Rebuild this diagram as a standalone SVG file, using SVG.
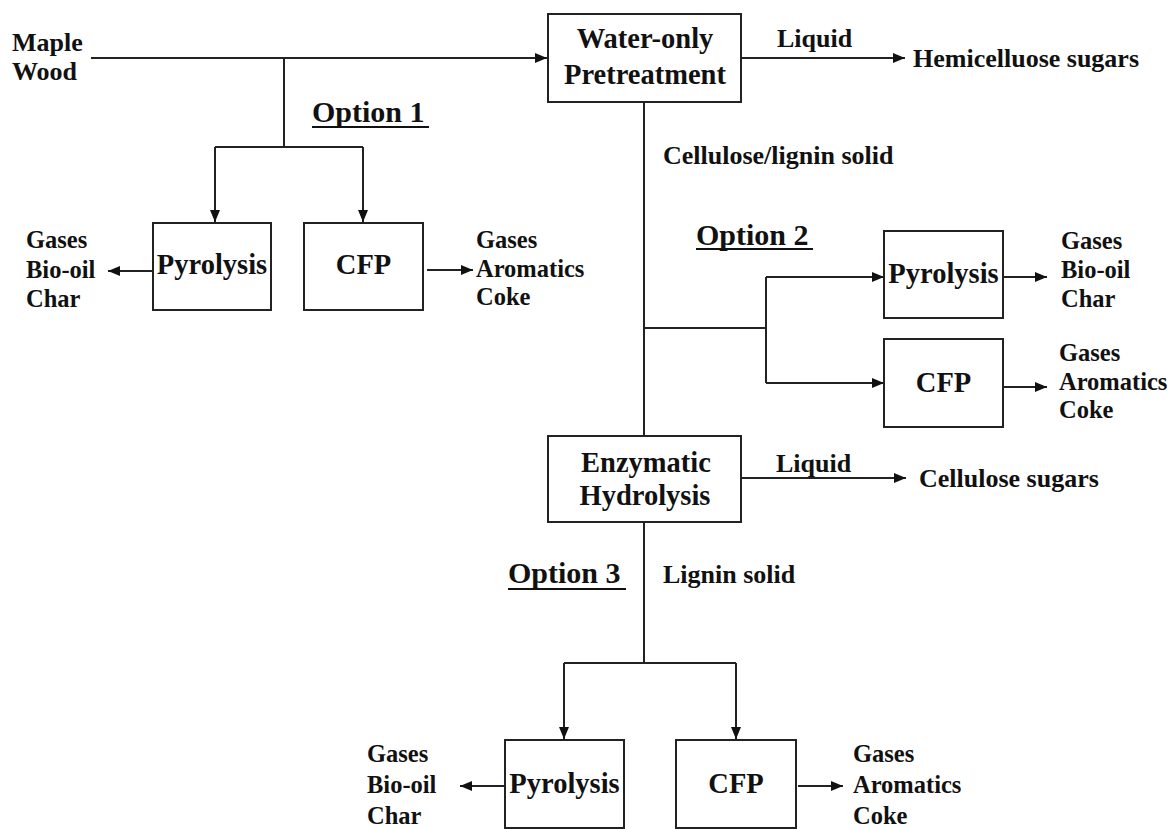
<svg xmlns="http://www.w3.org/2000/svg" width="1171" height="829" viewBox="0 0 1171 829">
<style>
text{font-family:'Liberation Serif','Times New Roman','DejaVu Serif Condensed','DejaVu Serif',serif;font-weight:700;fill:#111}
.box{fill:#fff;stroke:#222;stroke-width:2}
.bt{font-size:28.5px;text-anchor:middle}
.lb{font-size:26px}
.out{font-size:24.5px}
.opt{font-size:30px}
.c{fill:none;stroke:#222;stroke-width:2}
.ul{stroke:#111;stroke-width:2.2}
</style>
<defs>
<marker id="ah" viewBox="0 0 12 10" refX="12" refY="5" markerWidth="12" markerHeight="10" markerUnits="userSpaceOnUse" orient="auto">
<path d="M0,0 L12,5 L0,10 Z" fill="#111"/>
</marker>
</defs>
<rect width="1171" height="829" fill="#fff"/>

<g id="connectors">
<path class="c" d="M91,58 H547" marker-end="url(#ah)"/>
<path class="c" d="M284,58 V147"/>
<path class="c" d="M215,147 H363"/>
<path class="c" d="M215,147 V222" marker-end="url(#ah)"/>
<path class="c" d="M363,147 V222" marker-end="url(#ah)"/>
<path class="c" d="M153,271 H108" marker-end="url(#ah)"/>
<path class="c" d="M427,270 H473" marker-end="url(#ah)"/>
<path class="c" d="M741,58 H905" marker-end="url(#ah)"/>
<path class="c" d="M644,102 V436"/>
<path class="c" d="M644,328 H766"/>
<path class="c" d="M766,277 V383"/>
<path class="c" d="M766,277 H884" marker-end="url(#ah)"/>
<path class="c" d="M766,383 H884" marker-end="url(#ah)"/>
<path class="c" d="M1003,277 H1047" marker-end="url(#ah)"/>
<path class="c" d="M1003,387 H1047" marker-end="url(#ah)"/>
<path class="c" d="M741,478 H906" marker-end="url(#ah)"/>
<path class="c" d="M644,522 V663"/>
<path class="c" d="M564,663 H736"/>
<path class="c" d="M564,663 V739" marker-end="url(#ah)"/>
<path class="c" d="M736,663 V739" marker-end="url(#ah)"/>
<path class="c" d="M505,786 H460" marker-end="url(#ah)"/>
<path class="c" d="M798,786 H843" marker-end="url(#ah)"/>
</g>

<g id="maple-wood">
<text class="lb" x="12" y="51" font-family="Liberation Serif">Maple</text>
<text class="lb" x="12" y="80">Wood</text>
</g>

<g id="water-only-pretreatment">
<rect class="box" x="548" y="14" width="193" height="88"/>
<text class="bt" x="645" y="48">Water-only</text>
<text class="bt" x="645" y="84">Pretreatment</text>
</g>

<g id="liquid-label-1"><text class="lb" x="777" y="47">Liquid</text></g>
<g id="hemicellulose-sugars"><text class="lb" x="913" y="67">Hemicelluose sugars</text></g>
<g id="cellulose-lignin-label"><text class="lb" x="663" y="164">Cellulose/lignin solid</text></g>

<g id="option1">
<text class="opt" x="312" y="122">Option 1</text>
<line class="ul" x1="312" y1="127" x2="429" y2="127"/>
</g>

<g id="pyrolysis-1">
<rect class="box" x="153" y="223" width="118" height="87"/>
<text class="bt" x="212" y="274">Pyrolysis</text>
</g>
<g id="cfp-1">
<rect class="box" x="304" y="223" width="119" height="87"/>
<text class="bt" x="363.5" y="274">CFP</text>
</g>
<g id="pyrolysis-1-products">
<text class="out" x="26" y="248">Gases</text>
<text class="out" x="26" y="278">Bio-oil</text>
<text class="out" x="26" y="307">Char</text>
</g>
<g id="cfp-1-products">
<text class="out" x="476" y="248">Gases</text>
<text class="out" x="476" y="277">Aromatics</text>
<text class="out" x="476" y="305">Coke</text>
</g>

<g id="option2">
<text class="opt" x="696" y="245">Option 2</text>
<line class="ul" x1="696" y1="249" x2="813" y2="249"/>
</g>

<g id="pyrolysis-2">
<rect class="box" x="884" y="231" width="119" height="87"/>
<text class="bt" x="943.5" y="283">Pyrolysis</text>
</g>
<g id="cfp-2">
<rect class="box" x="884" y="339" width="119" height="88"/>
<text class="bt" x="943.5" y="392">CFP</text>
</g>
<g id="pyrolysis-2-products">
<text class="out" x="1061" y="249">Gases</text>
<text class="out" x="1061" y="278">Bio-oil</text>
<text class="out" x="1061" y="307">Char</text>
</g>
<g id="cfp-2-products">
<text class="out" x="1059" y="361">Gases</text>
<text class="out" x="1059" y="390">Aromatics</text>
<text class="out" x="1059" y="418">Coke</text>
</g>

<g id="enzymatic-hydrolysis">
<rect class="box" x="548" y="436" width="193" height="86"/>
<text class="bt" x="646" y="472">Enzymatic</text>
<text class="bt" x="645" y="505">Hydrolysis</text>
</g>
<g id="liquid-label-2"><text class="lb" x="776" y="472">Liquid</text></g>
<g id="cellulose-sugars"><text class="lb" x="919" y="487">Cellulose sugars</text></g>
<g id="lignin-solid-label"><text class="lb" x="663" y="583">Lignin solid</text></g>

<g id="option3">
<text class="opt" x="508" y="583">Option 3</text>
<line class="ul" x1="508" y1="589" x2="626" y2="589"/>
</g>

<g id="pyrolysis-3">
<rect class="box" x="505" y="740" width="119" height="88"/>
<text class="bt" x="564.5" y="793">Pyrolysis</text>
</g>
<g id="cfp-3">
<rect class="box" x="676" y="740" width="120" height="88"/>
<text class="bt" x="736" y="793">CFP</text>
</g>
<g id="pyrolysis-3-products">
<text class="out" x="367" y="762">Gases</text>
<text class="out" x="367" y="793">Bio-oil</text>
<text class="out" x="367" y="824">Char</text>
</g>
<g id="cfp-3-products">
<text class="out" x="853" y="762">Gases</text>
<text class="out" x="853" y="793">Aromatics</text>
<text class="out" x="853" y="824">Coke</text>
</g>
</svg>
